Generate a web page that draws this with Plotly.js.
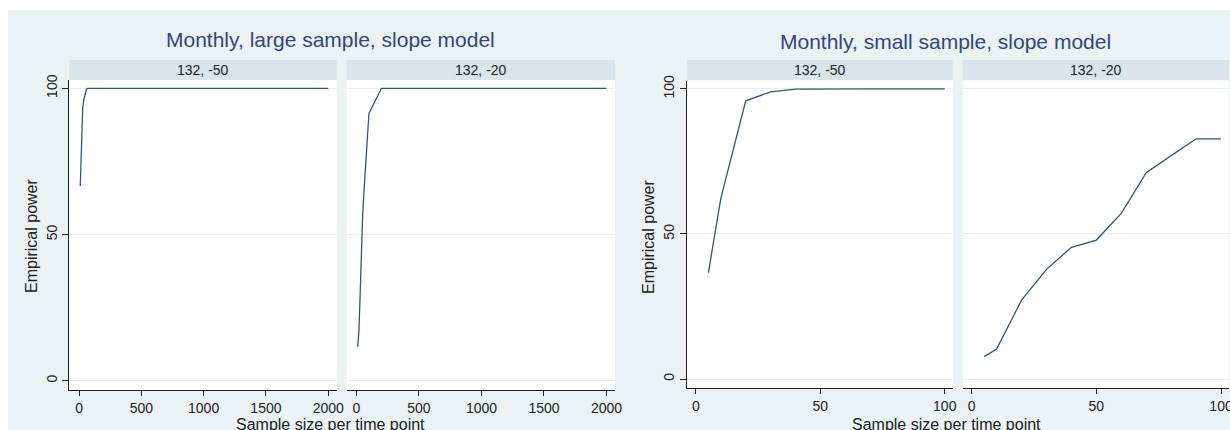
<!DOCTYPE html>
<html>
<head>
<meta charset="utf-8">
<script src="https://cdn.plot.ly/plotly-3.0.1.min.js"></script>
<style>
  html, body { margin: 0; padding: 0; background: #ffffff; width: 1230px; height: 430px; overflow: hidden; }
  #chart { position: absolute; left: 8px; top: 10px; width: 1222px; height: 420px; }
</style>
</head>
<body>
<div id="chart"></div>
<script>
// ---- data ----
const panelTitles = ["Monthly, large sample, slope model", "Monthly, small sample, slope model"];
const stripLabels = ["132, -50", "132, -20"];
const xAxisTitle = "Sample size per time point";
const yAxisTitle = "Empirical power";

const largeX = [10, 20, 30, 40, 50, 60, 70, 80, 90, 100, 200, 300, 400, 500, 600, 700, 800, 900, 1000,
                1100, 1200, 1300, 1400, 1500, 1600, 1700, 1800, 1900, 2000];
const largeM50 = [66.6, 79.5, 93.7, 96.3, 98.6, 99.8, 100, 100, 100, 100, 100, 100, 100, 100, 100, 100, 100, 100, 100,
                  100, 100, 100, 100, 100, 100, 100, 100, 100, 100];
const largeM20 = [11.6, 17.3, 29.9, 45.8, 57.2, 64.6, 72.1, 79.5, 86.9, 91.4, 100, 100, 100, 100, 100, 100, 100, 100, 100,
                  100, 100, 100, 100, 100, 100, 100, 100, 100, 100];

const smallX = [5, 10, 20, 30, 40, 50, 60, 70, 80, 90, 100];
const smallM50 = [36.7, 62.3, 95.9, 99.0, 99.9, 100, 100, 100, 100, 100, 100];
const smallM20 = [7.7, 10.3, 27.2, 37.8, 45.4, 47.9, 57.1, 71.1, 77.0, 82.8, 82.8];

const largeTicks = [0, 500, 1000, 1500, 2000];
const smallTicks = [0, 50, 100];
const yTicks = [0, 50, 100];

// ---- styling / layout helpers ----
const W = 1222, H = 420, OX = 8, OY = 10;
const fx = x => (x - OX) / W;          // page px -> paper x
const fy = y => 1 - (y - OY) / H;      // page px -> paper y

const FONT = "Liberation Sans, Arial, sans-serif";
const LINE = "#30557d";
const BG = "#eaf2f3";
const STRIP = "#d9e5ea";
const GRID = "#e6eef0";
const INK = "#222222";
const TITLE = "#34467a";

const lineStyle = { color: LINE, width: 1.3 };
const traces = [
  { x: largeX, y: largeM50, xaxis: "x", yaxis: "y", mode: "lines", line: lineStyle, hoverinfo: "skip" },
  { x: largeX, y: largeM20, xaxis: "x2", yaxis: "y2", mode: "lines", line: lineStyle, hoverinfo: "skip" },
  { x: smallX, y: smallM50, xaxis: "x3", yaxis: "y3", mode: "lines", line: lineStyle, hoverinfo: "skip" },
  { x: smallX, y: smallM20, xaxis: "x4", yaxis: "y4", mode: "lines", line: lineStyle, hoverinfo: "skip" }
];

// plot area edges in page pixels
const plots = [
  { l: 69.3, r: 336.7, t: 80, b: 390 },
  { l: 346.7, r: 615, t: 80, b: 390 },
  { l: 687, r: 952.7, t: 80.5, b: 388.3 },
  { l: 962.7, r: 1229, t: 80.5, b: 388.3 }
];

function xAx(i, range, ticks) {
  const p = plots[i];
  return {
    domain: [fx(p.l), fx(p.r)], anchor: i === 0 ? "y" : "y" + (i + 1),
    range: range, tickvals: ticks, ticktext: ticks.map(String),
    showgrid: false, zeroline: false, showline: true, linecolor: INK, linewidth: 1,
    ticks: "outside", ticklen: 5, tickcolor: INK, tickwidth: 1,
    ticklabeloverflow: "allow",
    tickfont: { family: FONT, size: 14, color: INK }, fixedrange: true
  };
}
function yAx(i, range, first) {
  const p = plots[i];
  return {
    domain: [fy(p.b), fy(p.t)], anchor: i === 0 ? "x" : "x" + (i + 1),
    range: range, tickvals: yTicks, ticktext: yTicks.map(String),
    showgrid: true, gridcolor: GRID, gridwidth: 1, zeroline: false,
    showline: first, linecolor: INK, linewidth: 1,
    ticks: first ? "outside" : "", ticklen: 6, tickcolor: INK, tickwidth: 1,
    showticklabels: first, tickangle: -90, ticklabeloverflow: "allow",
    tickfont: { family: FONT, size: 14, color: INK }, fixedrange: true
  };
}

const largeRange = [-78, 2068];
const smallRange = [-3.6, 103.2];
const yRangeL = [-3.18, 102.84];
const yRangeR = [-3.2, 102.9];

const shapes = [];
const annotations = [];
plots.forEach((p, i) => {
  shapes.push({ type: "rect", xref: "paper", yref: "paper", x0: fx(p.l), x1: fx(p.r), y0: fy(80), y1: fy(60),
                fillcolor: STRIP, line: { width: 0 }, layer: "below" });
  annotations.push({ xref: "paper", yref: "paper", x: fx((p.l + p.r) / 2), y: fy(70), xanchor: "center", yanchor: "middle",
                     text: stripLabels[i % 2], showarrow: false, font: { family: FONT, size: 14, color: INK } });
});
// panel titles
annotations.push({ xref: "paper", yref: "paper", x: fx(330), y: fy(40), xanchor: "center", yanchor: "middle",
                   text: panelTitles[0], showarrow: false, font: { family: FONT, size: 21, color: TITLE } });
annotations.push({ xref: "paper", yref: "paper", x: fx(945), y: fy(41.5), xanchor: "center", yanchor: "middle",
                   text: panelTitles[1], showarrow: false, font: { family: FONT, size: 21, color: TITLE } });
// x axis titles (cut at the bottom edge, as in the reference)
annotations.push({ xref: "paper", yref: "paper", x: fx(330), y: fy(424), xanchor: "center", yanchor: "middle",
                   text: xAxisTitle, showarrow: false, font: { family: FONT, size: 16, color: INK } });
annotations.push({ xref: "paper", yref: "paper", x: fx(946), y: fy(424), xanchor: "center", yanchor: "middle",
                   text: xAxisTitle, showarrow: false, font: { family: FONT, size: 16, color: INK } });
// y axis titles
annotations.push({ xref: "paper", yref: "paper", x: fx(31), y: fy(236), xanchor: "center", yanchor: "middle", textangle: -90,
                   text: yAxisTitle, showarrow: false, font: { family: FONT, size: 16, color: INK } });
annotations.push({ xref: "paper", yref: "paper", x: fx(648), y: fy(237), xanchor: "center", yanchor: "middle", textangle: -90,
                   text: yAxisTitle, showarrow: false, font: { family: FONT, size: 16, color: INK } });

const layout = {
  width: W, height: H,
  margin: { l: 0, r: 0, t: 0, b: 0, pad: 0 },
  paper_bgcolor: BG, plot_bgcolor: "#ffffff",
  showlegend: false,
  xaxis: xAx(0, largeRange, largeTicks), yaxis: yAx(0, yRangeL, true),
  xaxis2: xAx(1, largeRange, largeTicks), yaxis2: yAx(1, yRangeL, false),
  xaxis3: xAx(2, smallRange, smallTicks), yaxis3: yAx(2, yRangeR, true),
  xaxis4: xAx(3, smallRange, smallTicks), yaxis4: yAx(3, yRangeR, false),
  shapes: shapes, annotations: annotations
};

Plotly.newPlot("chart", traces, layout, { staticPlot: true, displayModeBar: false });
</script>
</body>
</html>
